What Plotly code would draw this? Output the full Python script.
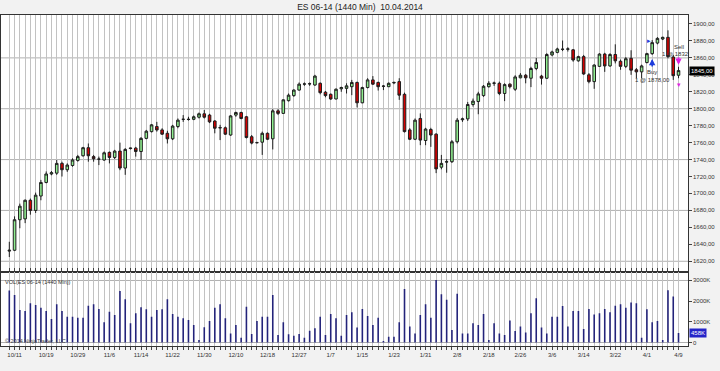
import plotly.graph_objects as go

# ---------------- data ----------------
OPEN = [1632, 1633, 1669, 1670, 1692, 1680, 1697, 1713, 1723, 1724,
        1735.5, 1728, 1733, 1739, 1744.5, 1754, 1743.5, 1740.5, 1739.5, 1748.5,
        1742.5, 1750, 1730, 1753, 1753.5, 1749.5, 1765, 1773, 1779, 1775,
        1771, 1764.5, 1779, 1787.5, 1787.25, 1787.5, 1790, 1794, 1792.5, 1785.5,
        1777.75, 1777.5, 1769, 1792.5, 1795.5, 1790.5, 1767, 1760, 1760.5, 1771,
        1764.5, 1797.5, 1794.5, 1809.5, 1815.5, 1822, 1829, 1829.25, 1828, 1830,
        1819.5, 1817, 1811.5, 1823.5, 1824, 1826, 1831, 1807, 1825, 1834,
        1831, 1826.75, 1826, 1830.5, 1832, 1817, 1775, 1764, 1788.5, 1762.5,
        1775.5, 1770, 1731, 1737, 1737.5, 1761, 1787, 1788, 1805, 1808.5,
        1815.5, 1826, 1830, 1830, 1818, 1829, 1823, 1836.5, 1839.5, 1836,
        1847.5, 1838.5, 1836, 1863.5, 1866.5, 1870, 1870.25, 1869.5, 1856.5, 1861.5,
        1840, 1832, 1850, 1864.5, 1850.5, 1864, 1856, 1850, 1859.5, 1846,
        1843.5, 1854.5, 1865, 1877.5, 1882.25, 1884.25, 1861, 1839.5]
HIGH = [1643, 1673, 1688, 1693, 1694, 1701, 1716, 1726, 1726.5, 1739.5,
        1737.5, 1735.5, 1741.5, 1745.5, 1755, 1759, 1745.5, 1743.5, 1749.5, 1749.5,
        1751.5, 1760, 1753.5, 1754, 1755, 1766.5, 1775, 1782, 1784.5, 1777,
        1774, 1781, 1788.5, 1792.5, 1790.5, 1792, 1795.5, 1798.5, 1794, 1786.5,
        1781, 1779, 1792.5, 1796.5, 1796.5, 1791.5, 1769, 1761, 1773, 1772,
        1799.5, 1799.5, 1811, 1818, 1823, 1831, 1831, 1831, 1840, 1831,
        1821, 1818, 1824, 1826, 1830, 1834, 1832, 1826, 1836, 1838.5,
        1832, 1828, 1831, 1832, 1836, 1819, 1777, 1788.5, 1794.5, 1777.5,
        1777.5, 1771, 1745.5, 1740.5, 1763, 1789, 1789.5, 1808, 1812, 1820,
        1828, 1832.5, 1832, 1832, 1830, 1830, 1839.5, 1842, 1841, 1849.5,
        1860, 1840, 1865.5, 1868.5, 1872, 1880.5, 1872.5, 1870.5, 1862.5, 1863.5,
        1842, 1852.5, 1865.5, 1866, 1865.5, 1876, 1858, 1861, 1869, 1848,
        1852, 1866, 1881, 1884.5, 1885, 1892.5, 1863.5, 1849.5]
LOW = [1625, 1632, 1659, 1665, 1675, 1677, 1692, 1712, 1721.5, 1722,
       1720, 1725.5, 1731.5, 1737.5, 1743.5, 1737.5, 1737.5, 1733.5, 1738.5, 1735.5,
       1740.5, 1727.5, 1722, 1752, 1743.5, 1739.5, 1764, 1772, 1773, 1769,
       1759, 1763, 1777, 1784.5, 1786, 1786.5, 1788.5, 1788.5, 1783, 1771,
       1763, 1769, 1768, 1790.5, 1787.5, 1765, 1758, 1759, 1745.5, 1763,
       1752, 1792.5, 1794, 1808.5, 1814, 1821.5, 1827, 1827, 1827, 1817,
       1813.5, 1810.5, 1811, 1820, 1818, 1816, 1801.5, 1806.5, 1824, 1828,
       1821.5, 1822, 1826, 1829, 1810.5, 1772, 1763, 1763, 1757, 1757,
       1755, 1724, 1728.5, 1724.5, 1736, 1759, 1784.5, 1785.5, 1802.5, 1793.5,
       1814, 1825, 1827, 1816, 1809, 1824, 1821, 1836, 1830, 1825.5,
       1845.5, 1828.5, 1835, 1862, 1865.5, 1868, 1867.5, 1855.5, 1855.5, 1840,
       1830, 1823.5, 1849.5, 1843.5, 1849.5, 1853.5, 1846, 1848, 1840, 1836,
       1836, 1853.5, 1863.5, 1876, 1881, 1859.5, 1834, 1836]
CLOSE = [1633, 1669, 1685, 1692, 1680, 1698, 1713, 1723, 1724.5, 1735.5,
         1728, 1733.5, 1739.5, 1743.5, 1754, 1744.5, 1741, 1740.5, 1748, 1742.5,
         1750, 1730, 1752, 1753.5, 1749.5, 1765, 1773.5, 1781, 1775, 1770,
         1764.5, 1779.5, 1786.5, 1787.5, 1787.5, 1790.5, 1794, 1790, 1784.5, 1777,
         1777.5, 1770, 1791.5, 1795.5, 1788.5, 1766, 1759.5, 1760, 1771, 1764,
         1797.5, 1794.5, 1810.5, 1816, 1822, 1829, 1829.25, 1829.5, 1838.5, 1819,
         1815.5, 1811.5, 1823, 1825, 1827, 1831, 1807, 1825, 1834, 1829,
         1826, 1826.5, 1830, 1831, 1816, 1773, 1764, 1786.5, 1763, 1776,
         1769, 1729, 1735.5, 1737.5, 1761, 1786.5, 1788, 1805, 1809, 1817.5,
         1826.5, 1830, 1830.25, 1818, 1828.5, 1826, 1837.5, 1839.5, 1836.5, 1847.5,
         1854.5, 1836, 1864, 1867, 1870.5, 1870.25, 1870.5, 1857.5, 1861.5, 1841,
         1832, 1851.5, 1864.5, 1850.5, 1864, 1856.5, 1850, 1859, 1845.5, 1843.5,
         1850.5, 1865, 1878, 1883, 1884.25, 1861.5, 1839, 1845]
VOLUME_K = [2510, 2300, 1570, 1520, 1900, 1810, 1680, 1520, 1140, 1850,
            1520, 1250, 1250, 1200, 1200, 1780, 1850, 1620, 980, 1490,
            1330, 2490, 2090, 930, 1410, 1700, 1610, 1250, 1570, 1610,
            2090, 1380, 1250, 1170, 1090, 850, 120, 740, 1040, 1680,
            1850, 1170, 440, 850, 230, 1730, 410, 1040, 1250, 1250,
            2300, 360, 980, 400, 330, 410, 230, 570, 690, 1250,
            360, 1380, 1170, 330, 1330, 1460, 720, 1620, 1280, 850,
            1200, 70, 280, 280, 980, 2590, 770, 440, 1330, 1850,
            1200, 3020, 2330, 2070, 600, 2360, 440, 440, 930, 850,
            1380, 120, 930, 440, 360, 1070, 560, 770, 480, 1410,
            2140, 720, 440, 1250, 1250, 1770, 770, 1520, 1520, 650,
            1620, 1360, 1410, 1620, 1460, 1780, 1850, 1680, 1930, 1900,
            230, 1610, 980, 1040, 120, 2530, 2220, 458]
DATE_LABELS = ["10/11", "10/19", "10/29", "11/6", "11/14", "11/22", "11/30",
               "12/10", "12/18", "12/27", "1/7", "1/15", "1/23", "1/31", "2/8",
               "2/18", "2/26", "3/6", "3/14", "3/22", "4/1", "4/9"]
PRICE_TICKS = [1620, 1640, 1660, 1680, 1700, 1720, 1740, 1760, 1780, 1800,
               1820, 1840, 1860, 1880, 1900]
PRICE_TICK_TEXT = ["1620,00", "1640,00", "1660,00", "1680,00", "1700,00",
                   "1720,00", "1740,00", "1760,00", "1780,00", "1800,00",
                   "1820,00", "1840,00", "1860,00", "1880,00", "1900,00"]
PRICE_GRID = [1620, 1680, 1740, 1800, 1860]
VOL_TICKS = [0, 1000, 2000, 3000]
VOL_TICK_TEXT = ["0", "1000K", "2000K", "3000K"]
VOL_GRID = [0, 3000]
BUY_BAR, BUY_PRICE = 122, "1878,00"
SELL_BAR, SELL_PRICE = 127, "1832"

N = len(CLOSE)
X = list(range(N))
LABEL_FIRST, LABEL_STEP = 1, 6
tick_text = [""] * N
for k, lab in enumerate(DATE_LABELS):
    tick_text[LABEL_FIRST + k * LABEL_STEP] = lab

FONT = "Liberation Sans, Arial, sans-serif"
VOL_DOMAIN_TOP = 0.2227
TXT = "#333333"

fig = go.Figure()
fig.add_trace(go.Candlestick(
    x=X, open=OPEN, high=HIGH, low=LOW, close=CLOSE,
    increasing=dict(fillcolor="#90ee90", line=dict(color="#1e1e1e", width=1)),
    decreasing=dict(fillcolor="#d40000", line=dict(color="#1e1e1e", width=1)),
    whiskerwidth=0, xaxis="x", yaxis="y", showlegend=False, hoverinfo="skip"))
fig.add_trace(go.Bar(
    x=X, y=VOLUME_K, width=0.3, marker=dict(color="#23237a", line=dict(width=0)),
    xaxis="x", yaxis="y2", showlegend=False, hoverinfo="skip"))

shapes = []
for g in PRICE_GRID:
    shapes.append(dict(type="line", xref="x domain", x0=0, x1=1, yref="y", y0=g, y1=g,
                       line=dict(color="#b0b0b0", width=1), layer="below"))
for g in VOL_GRID:
    shapes.append(dict(type="line", xref="x domain", x0=0, x1=1, yref="y2", y0=g, y1=g,
                       line=dict(color="#b0b0b0", width=1), layer="below"))

ann = []
# right-hand tick labels (drawn as text next to the axis ticks)
for v, t in zip(PRICE_TICKS, PRICE_TICK_TEXT):
    ann.append(dict(xref="paper", x=1, xanchor="left", xshift=3, yref="y", y=v, text=t,
                    showarrow=False, font=dict(color=TXT, size=6, family=FONT)))
for v, t in zip(VOL_TICKS, VOL_TICK_TEXT):
    ann.append(dict(xref="paper", x=1, xanchor="left", xshift=3, yref="y2", y=v, text=t,
                    showarrow=False, font=dict(color=TXT, size=6, family=FONT)))
# last price / last volume boxes
ann.append(dict(xref="paper", x=1, xanchor="left", xshift=1, yref="y", y=CLOSE[-1],
                text=f"{CLOSE[-1]:.2f}".replace(".", ","), showarrow=False,
                bgcolor="#000000", font=dict(color="white", size=6, family=FONT), borderpad=1))
ann.append(dict(xref="paper", x=1, xanchor="left", xshift=1, yref="y2", y=VOLUME_K[-1],
                text=f"{VOLUME_K[-1]}K", showarrow=False,
                bgcolor="#2424c8", font=dict(color="white", size=6, family=FONT), borderpad=1))
# panel labels
ann.append(dict(xref="paper", x=0, xanchor="left", xshift=2, yref="y2 domain", y=1,
                yanchor="top", yshift=-5, text="VOL(ES 06-14 (1440 Min))", showarrow=False,
                font=dict(color=TXT, size=5.5, family=FONT)))
ann.append(dict(xref="paper", x=0, xanchor="left", xshift=2, yref="y2 domain", y=0,
                yanchor="bottom", yshift=0, text="© 2014 NinjaTrader, LLC", showarrow=False,
                font=dict(color="#444444", size=5.5, family=FONT)))
# trade markers
ann.append(dict(x=BUY_BAR, y=LOW[BUY_BAR], yshift=-4, ax=0, ay=9, text="", showarrow=True,
                arrowhead=2, arrowsize=0.8, arrowwidth=1.6, arrowcolor="#1e3cdc", standoff=0))
ann.append(dict(x=BUY_BAR, y=LOW[BUY_BAR], yshift=-17, text="Buy", showarrow=False,
                font=dict(color=TXT, size=6, family=FONT)))
ann.append(dict(x=BUY_BAR, y=LOW[BUY_BAR], yshift=-25, text="1 @ " + BUY_PRICE, showarrow=False,
                font=dict(color=TXT, size=6, family=FONT)))
ann.append(dict(x=BUY_BAR, y=HIGH[BUY_BAR], xshift=-3, yshift=0, text="▸", showarrow=False,
                font=dict(color="#1e3cdc", size=7, family=FONT)))
ann.append(dict(x=SELL_BAR, y=HIGH[SELL_BAR], yshift=2, ax=0, ay=-9, text="", showarrow=True,
                arrowhead=2, arrowsize=0.8, arrowwidth=1.6, arrowcolor="#e020e0", standoff=0))
ann.append(dict(x=SELL_BAR, y=HIGH[SELL_BAR], yshift=20, text="Sell", showarrow=False,
                font=dict(color=TXT, size=6, family=FONT)))
ann.append(dict(x=SELL_BAR, y=HIGH[SELL_BAR], xshift=-3, yshift=13, text="1 @ " + SELL_PRICE,
                showarrow=False, font=dict(color=TXT, size=6, family=FONT)))
ann.append(dict(x=SELL_BAR, y=LOW[SELL_BAR], yshift=-6, text="▾", showarrow=False,
                font=dict(color="#e020e0", size=7, family=FONT)))

axis_common = dict(showline=True, linecolor="#333333", linewidth=1, zeroline=False)
fig.update_layout(
    width=720, height=371,
    margin=dict(l=1, r=32, t=15, b=25),
    paper_bgcolor="#f2f2f2", plot_bgcolor="#ffffff",
    font=dict(family=FONT, color=TXT),
    title=dict(text="ES 06-14 (1440 Min)  10.04.2014", x=0.5, xanchor="center",
               xref="container", yref="container", y=1 - 7.5 / 371, yanchor="middle",
               font=dict(size=8.5, color="#222222", family=FONT)),
    boxgap=0.3,
    xaxis=dict(domain=[0, 1], range=[-1.575, 128.8], anchor="y2",
               tickmode="array", tickvals=X, ticktext=tick_text,
               showgrid=True, gridcolor="#c2c2c2", gridwidth=1,
               ticks="outside", ticklen=3, tickcolor="#444444",
               tickfont=dict(size=6, color=TXT), mirror="all",
               rangeslider=dict(visible=False), **axis_common),
    yaxis=dict(domain=[VOL_DOMAIN_TOP, 1], range=[1607.0, 1910.6], anchor="x", side="right",
               tickmode="array", tickvals=PRICE_TICKS, showticklabels=False,
               showgrid=False, ticks="outside", ticklen=3, tickcolor="#444444",
               mirror=True, **axis_common),
    yaxis2=dict(domain=[0, VOL_DOMAIN_TOP], range=[-169, 3396], anchor="x", side="right",
                tickmode="array", tickvals=VOL_TICKS, showticklabels=False,
                showgrid=False, ticks="outside", ticklen=3, tickcolor="#444444",
                mirror=True, **axis_common),
    shapes=shapes, annotations=ann, showlegend=False,
)
fig.write_html("out.html", config={"displayModeBar": False, "staticPlot": True},
               post_script="document.body.style.margin='0';")
